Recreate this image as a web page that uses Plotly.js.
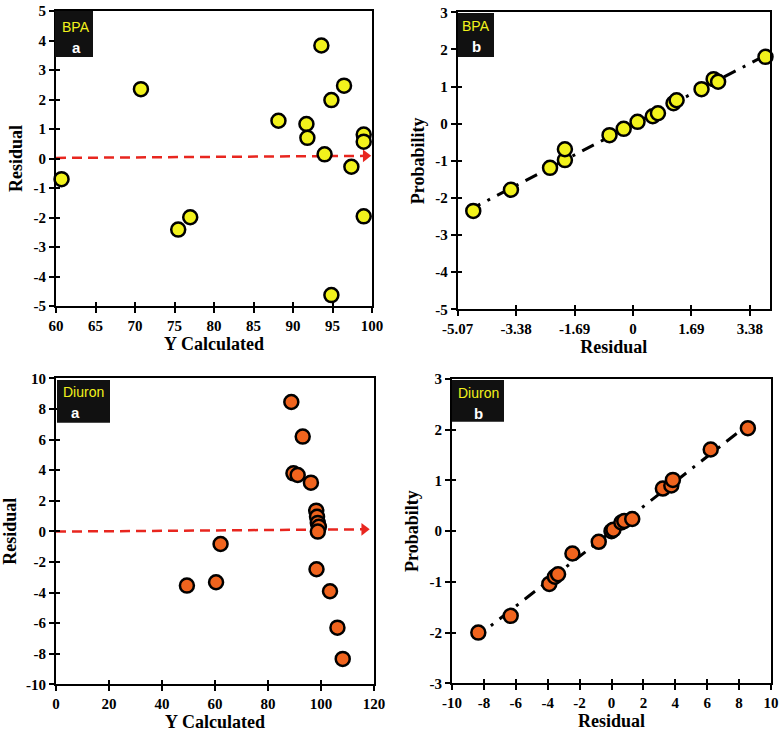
<!DOCTYPE html>
<html>
<head>
<meta charset="utf-8">
<script src="https://cdn.plot.ly/plotly-3.0.1.min.js"></script>
<style>html,body{margin:0;padding:0;background:#fff;}#chart{width:780px;height:733px;}</style>
</head>
<body>
<div id="chart"></div>
<script>
// ---- Data ----
// BPA (a): Y calculated vs residual
var bpaCalc  = [60.7, 70.75, 75.47, 76.99, 88.16, 91.70, 91.82, 93.59, 94.00, 94.86, 94.86, 96.46, 97.39, 98.95, 98.95, 98.95];
var bpaResid = [-0.70, 2.35, -2.41, -1.99, 1.28, 1.17, 0.70, 3.83, 0.14, 1.98, -4.63, 2.47, -0.28, 0.81, 0.57, -1.96];
// BPA (b): residual vs probability
var bpaProbX = [-4.62, -3.53, -2.40, -1.97, -1.97, -0.68, -0.27, 0.13, 0.57, 0.72, 1.17, 1.26, 1.98, 2.33, 2.46, 3.83];
var bpaProbY = [-2.35, -1.78, -1.19, -0.98, -0.69, -0.31, -0.14, 0.05, 0.20, 0.28, 0.55, 0.63, 0.93, 1.20, 1.13, 1.80];
var bpaTrendX = [-4.75, 3.95];
var bpaTrendY = [-2.33, 1.90];
var bpaArrowX = [60, 99.2];
var bpaArrowY = [0.02, 0.09];
// Diuron (a)
var diuCalc  = [88.8, 93.1, 89.6, 91.2, 96.2, 98.2, 98.5, 98.8, 99.2, 98.8, 62.1, 98.3, 60.4, 49.4, 103.4, 106.2, 108.2];
var diuResid = [8.45, 6.19, 3.79, 3.68, 3.18, 1.35, 0.95, 0.55, 0.30, -0.02, -0.83, -2.48, -3.33, -3.55, -3.92, -6.30, -8.34];
// Diuron (b)
var diuProbX = [-8.35, -6.32, -3.90, -3.55, -3.35, -2.45, -0.80, 0.00, 0.12, 0.62, 0.80, 1.30, 3.22, 3.75, 3.85, 6.22, 8.55];
var diuProbY = [-2.00, -1.67, -1.04, -0.90, -0.85, -0.44, -0.21, 0.00, 0.03, 0.17, 0.20, 0.24, 0.84, 0.90, 1.01, 1.61, 2.03];
var diuTrendX = [-8.6, 8.6];
var diuTrendY = [-2.12, 2.11];
var diuArrowX = [0, 116.3];
var diuArrowY = [-0.02, 0.13];

// ---- Tick labels ----
var t1x = ['60', '65', '70', '75', '80', '85', '90', '95', '100'];
var t1y = ['-5', '-4', '-3', '-2', '-1', '0', '1', '2', '3', '4', '5'];
var t2x = ['-5.07', '-3.38', '-1.69', '0', '1.69', '3.38'];
var t2y = ['-5', '-4', '-3', '-2', '-1', '0', '1', '2', '3'];
var t3x = ['0', '20', '40', '60', '80', '100', '120'];
var t3y = ['-10', '-8', '-6', '-4', '-2', '0', '2', '4', '6', '8', '10'];
var t4x = ['-10', '-8', '-6', '-4', '-2', '0', '2', '4', '6', '8', '10'];
var t4y = ['-3', '-2', '-1', '0', '1', '2', '3'];

// ---- Styles ----
var W = 780, H = 733;
function px(x) { return x / W; }
function py(y) { return 1 - y / H; }
function vals(t) { return t.map(Number); }
var YEL = '#f2f21c', ORG = '#f0641e', RED = '#e8261f';
var serif = 'Liberation Serif, Times New Roman, serif';

function axis(extra) {
  var a = {
    showline: true, linecolor: '#000', linewidth: 2, mirror: true,
    ticks: 'outside', ticklen: 5, tickwidth: 2, tickcolor: '#000',
    showgrid: false, zeroline: false, fixedrange: true, tickmode: 'array',
    tickfont: {family: serif, size: 15, color: '#000', weight: 'bold'}
  };
  for (var k in extra) a[k] = extra[k];
  return a;
}
function inner(extra) {
  var a = {
    showline: false, ticks: 'inside', ticklen: 4, tickwidth: 2, tickcolor: '#000',
    showgrid: false, zeroline: false, fixedrange: true, tickmode: 'array', showticklabels: false
  };
  for (var k in extra) a[k] = extra[k];
  return a;
}
function ttl(t, standoff) {
  return {text: t, standoff: standoff, font: {family: serif, size: 18, color: '#000', weight: 'bold'}};
}
function pts(x, y, xa, ya, col) {
  return {x: x, y: y, xaxis: xa, yaxis: ya, type: 'scatter', mode: 'markers', cliponaxis: false,
          marker: {size: 14, color: col, line: {color: '#000', width: 2.5}}, hoverinfo: 'x+y'};
}
function trend(x, y, xa, ya) {
  return {x: x, y: y, xaxis: xa, yaxis: ya, type: 'scatter', mode: 'lines', cliponaxis: false,
          line: {color: '#000', width: 3, dash: '13px,8px,3px,8px'}, hoverinfo: 'skip'};
}
function arrow(x, y, xa, ya) {
  return [
    {x: x, y: y, xaxis: xa, yaxis: ya, type: 'scatter', mode: 'lines', cliponaxis: false,
     line: {color: RED, width: 2.5, dash: '10px,6px'}, hoverinfo: 'skip'},
    {x: [x[x.length - 1]], y: [y[y.length - 1]], xaxis: xa, yaxis: ya, type: 'scatter', mode: 'markers',
     cliponaxis: false, marker: {symbol: 'triangle-right', size: 11, color: RED}, hoverinfo: 'skip'}
  ];
}
// empty traces that make the inner-tick overlay axes render
function dummy(xa, ya) {
  return {x: [], y: [], xaxis: xa, yaxis: ya, type: 'scatter', mode: 'markers', hoverinfo: 'skip'};
}

var data = [].concat(
  arrow(bpaArrowX, bpaArrowY, 'x', 'y'),
  [pts(bpaCalc, bpaResid, 'x', 'y', YEL)],
  [trend(bpaTrendX, bpaTrendY, 'x2', 'y2'), pts(bpaProbX, bpaProbY, 'x2', 'y2', YEL)],
  arrow(diuArrowX, diuArrowY, 'x3', 'y3'),
  [pts(diuCalc, diuResid, 'x3', 'y3', ORG)],
  [trend(diuTrendX, diuTrendY, 'x4', 'y4'), pts(diuProbX, diuProbY, 'x4', 'y4', ORG)],
  [dummy('x5', 'y5'), dummy('x6', 'y6'), dummy('x7', 'y7'), dummy('x8', 'y8')]
);

function box(x0, y0, x1, y1) {
  return {type: 'rect', xref: 'paper', yref: 'paper', x0: px(x0), x1: px(x1), y0: py(y1), y1: py(y0),
          fillcolor: '#111', line: {width: 0}, layer: 'above'};
}
function lab(t, x, y, col, size, bold) {
  return {text: t, xref: 'paper', yref: 'paper', x: px(x), y: py(y), xanchor: 'center', yanchor: 'middle',
          showarrow: false, font: {family: 'Liberation Sans, Arial, sans-serif', size: size, color: col, weight: bold ? 'bold' : 'normal'}};
}

var d1x = [px(56), px(372)], d1y = [py(306), py(11)];
var d2x = [px(457.7), px(770)], d2y = [py(309.3), py(12.3)];
var d3x = [px(56), px(374)], d3y = [py(684.3), py(378.3)];
var d4x = [px(452), px(771)], d4y = [py(683.3), py(379)];
var r1x = [60, 100], r1y = [-5, 5], r2x = [-5.07, 3.96], r2y = [-5, 3];
var r3x = [0, 120], r3y = [-10, 10], r4x = [-10, 10], r4y = [-3, 3];

var layout = {
  width: W, height: H, margin: {l: 0, r: 0, t: 0, b: 0},
  paper_bgcolor: '#fff', plot_bgcolor: 'rgba(0,0,0,0)', showlegend: false,
  xaxis:  axis({domain: d1x, range: r1x, tickvals: vals(t1x), ticktext: t1x, anchor: 'y', title: ttl('Y Calculated', 0)}),
  yaxis:  axis({domain: d1y, range: r1y, tickvals: vals(t1y), ticktext: t1y, anchor: 'x', title: ttl('Residual', 6)}),
  xaxis2: axis({domain: d2x, range: r2x, tickvals: vals(t2x), ticktext: t2x, anchor: 'y2', title: ttl('Residual', 0)}),
  yaxis2: axis({domain: d2y, range: r2y, tickvals: vals(t2y), ticktext: t2y, anchor: 'x2', title: ttl('Probability', 6)}),
  xaxis3: axis({domain: d3x, range: r3x, tickvals: vals(t3x), ticktext: t3x, anchor: 'y3', title: ttl('Y Calculated', 0)}),
  yaxis3: axis({domain: d3y, range: r3y, tickvals: vals(t3y), ticktext: t3y, anchor: 'x3', title: ttl('Residual', 6)}),
  xaxis4: axis({domain: d4x, range: r4x, tickvals: vals(t4x), ticktext: t4x, anchor: 'y4', title: ttl('Residual', 0)}),
  yaxis4: axis({domain: d4y, range: r4y, tickvals: vals(t4y), ticktext: t4y, anchor: 'x4', title: ttl('Probabilty', 6)}),
  xaxis5: inner({overlaying: 'x', range: r1x, tickvals: vals(t1x), anchor: 'y5'}),
  yaxis5: inner({overlaying: 'y', range: r1y, tickvals: vals(t1y), anchor: 'x5'}),
  xaxis6: inner({overlaying: 'x2', range: r2x, tickvals: vals(t2x), anchor: 'y6'}),
  yaxis6: inner({overlaying: 'y2', range: r2y, tickvals: vals(t2y), anchor: 'x6'}),
  xaxis7: inner({overlaying: 'x3', range: r3x, tickvals: vals(t3x), anchor: 'y7'}),
  yaxis7: inner({overlaying: 'y3', range: r3y, tickvals: vals(t3y), anchor: 'x7'}),
  xaxis8: inner({overlaying: 'x4', range: r4x, tickvals: vals(t4x), anchor: 'y8'}),
  yaxis8: inner({overlaying: 'y4', range: r4y, tickvals: vals(t4y), anchor: 'x8'}),
  shapes: [box(55, 11, 93, 57), box(458, 13, 494, 57), box(57, 380, 110, 422.7), box(452, 380, 504, 421.7)],
  annotations: [
    lab('BPA', 76, 26.7, YEL, 14, false), lab('a', 76, 47.7, '#fff', 15, true),
    lab('BPA', 476, 26.5, YEL, 14, false), lab('b', 476, 46.5, '#fff', 15, true),
    lab('Diuron', 83.3, 391.7, YEL, 14, false), lab('a', 75, 412.3, '#fff', 15, true),
    lab('Diuron', 478.3, 392.7, YEL, 14, false), lab('b', 478.3, 413.3, '#fff', 15, true)
  ]
};

Plotly.newPlot('chart', data, layout, {displayModeBar: false, staticPlot: true});
</script>
</body>
</html>
